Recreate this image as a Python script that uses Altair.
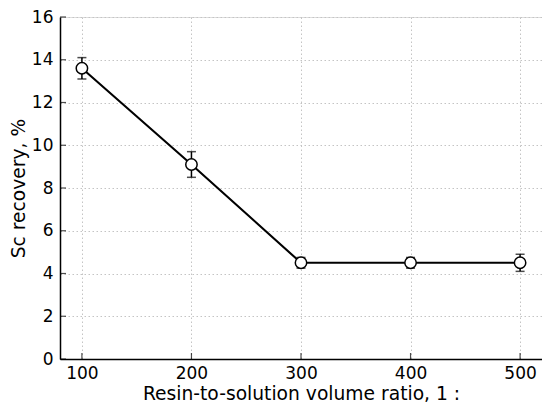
import altair as alt
import pandas as pd

ratio = [100, 200, 300, 400, 500]
recovery = [13.6, 9.1, 4.5, 4.5, 4.5]
err = [0.5, 0.6, 0.25, 0.25, 0.4]
x_ticks = [100, 200, 300, 400, 500]
y_ticks = [0, 2, 4, 6, 8, 10, 12, 14, 16]

df = pd.DataFrame({"ratio": ratio, "rec": recovery, "err": err})
df["lo"] = df["rec"] - df["err"]
df["hi"] = df["rec"] + df["err"]

W, H = 482, 342
FONT = "DejaVu Sans"

xs = alt.Scale(domain=[80, 520], nice=False, zero=False)
ys = alt.Scale(domain=[0, 16], nice=False)

common = dict(ticks=False, grid=True, gridDash=[1.5, 2.5], gridColor="#c4c4c4", gridWidth=1,
              domainColor="black", domainWidth=1.5, labelFontSize=17, titleFontSize=18.7,
              labelColor="black", titleColor="black", titleFontWeight="normal",
              labelFont=FONT, titleFont=FONT)
xax = alt.Axis(values=x_ticks, title="Resin-to-solution volume ratio, 1 :",
               labelPadding=6, titleBaseline="alphabetic", titleY=40, titleX=W / 2,
               titleAlign="center", **common)
yax = alt.Axis(values=y_ticks, title="Sc recovery, %",
               labelPadding=7, titleBaseline="middle", titleX=-42, titleY=H / 2,
               titleAlign="center", titleAngle=270, **common)

base = alt.Chart(df)

line = base.mark_line(color="black", strokeWidth=2.1).encode(
    x=alt.X("ratio:Q", scale=xs, axis=xax),
    y=alt.Y("rec:Q", scale=ys, axis=yax),
)
bars = base.mark_rule(color="black", strokeWidth=1.5).encode(
    x=alt.X("ratio:Q", scale=xs), y=alt.Y("lo:Q", scale=ys), y2="hi:Q"
)
cap_hi = base.mark_tick(color="black", orient="horizontal", size=9, thickness=1.5).encode(
    x=alt.X("ratio:Q", scale=xs), y=alt.Y("hi:Q", scale=ys)
)
cap_lo = base.mark_tick(color="black", orient="horizontal", size=9, thickness=1.5).encode(
    x=alt.X("ratio:Q", scale=xs), y=alt.Y("lo:Q", scale=ys)
)
pts = base.mark_point(shape="circle", filled=False, fill="white", fillOpacity=1,
                      stroke="black", strokeWidth=1.5, size=130, opacity=1).encode(
    x=alt.X("ratio:Q", scale=xs), y=alt.Y("rec:Q", scale=ys)
)

xt = pd.DataFrame({"v": x_ticks})
yt = pd.DataFrame({"v": y_ticks})
xtick = alt.Chart(xt).mark_tick(color="black", orient="vertical", size=6, thickness=1.2).encode(
    x=alt.X("v:Q", scale=xs), y=alt.value(H - 3)
)
ytick = alt.Chart(yt).mark_tick(color="black", orient="horizontal", size=6, thickness=1.2).encode(
    y=alt.Y("v:Q", scale=ys), x=alt.value(3)
)

chart = alt.layer(line, bars, cap_hi, cap_lo, pts, xtick, ytick).properties(
    width=W, height=H,
    autosize=alt.AutoSizeParams(type="none"),
    padding={"left": 52, "top": 9, "right": 0, "bottom": 44},
).configure_view(stroke=None).configure(background="white")

chart.save("out.html", embed_options={"renderer": "svg", "actions": False})
